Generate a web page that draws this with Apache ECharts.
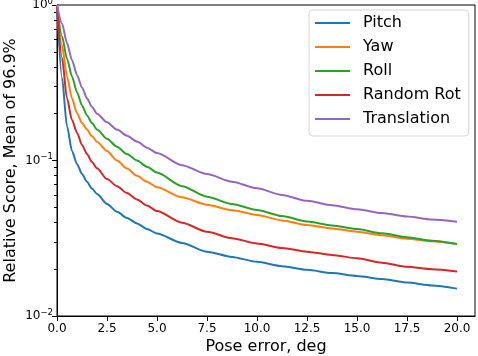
<!DOCTYPE html>
<html lang="en">
<head>
    <meta charset="UTF-8">
    <script src="https://cdn.jsdelivr.net/npm/echarts@6/dist/echarts.min.js"></script>
    <title>Relative score vs pose error</title>
    <style>
        html, body { margin: 0; padding: 0; background: #fff; }
        #chart { width: 478px; height: 356px; }
    </style>
</head>
<body>
<div id="chart"></div>
<script>
    const poseError = [0, 0.25, 0.5, 0.75, 1, 1.25, 1.5, 1.75, 2, 2.5, 3, 3.5, 4, 4.5, 5,
        6.25, 7.5, 8.75, 10, 11.25, 12.5, 13.75, 15, 16.25, 17.5, 18.75, 20]

    const pitch = [1, 0.34, 0.166, 0.115, 0.095, 0.082, 0.073, 0.066, 0.061, 0.0525, 0.0468, 0.0427, 0.0394, 0.0363, 0.0339,
        0.0295, 0.0259, 0.024, 0.0223, 0.0209, 0.0198, 0.0189, 0.0181, 0.0173, 0.0164, 0.0157, 0.015]
    const yaw = [1, 0.55, 0.347, 0.251, 0.202, 0.174, 0.158, 0.143, 0.132, 0.115, 0.1, 0.0887, 0.0798, 0.073, 0.0673,
        0.058, 0.0519, 0.0479, 0.0447, 0.0412, 0.0385, 0.0366, 0.0348, 0.033, 0.0314, 0.0302, 0.029]
    const roll = [1, 0.63, 0.452, 0.347, 0.275, 0.226, 0.195, 0.174, 0.158, 0.138, 0.1225, 0.11, 0.1, 0.0912, 0.0836,
        0.0684, 0.0585, 0.0525, 0.0481, 0.0439, 0.0405, 0.0382, 0.0362, 0.034, 0.0321, 0.0305, 0.029]
    const randomRot = [1, 0.457, 0.251, 0.182, 0.151, 0.126, 0.11, 0.0977, 0.0891, 0.0759, 0.0684, 0.0617, 0.0562, 0.0513, 0.0473,
        0.0398, 0.0348, 0.0316, 0.0293, 0.0274, 0.0259, 0.0247, 0.0235, 0.022, 0.0207, 0.02, 0.0193]
    const translation = [1, 0.76, 0.569, 0.442, 0.355, 0.295, 0.251, 0.221, 0.2, 0.176, 0.158, 0.1445, 0.1324, 0.121, 0.1117,
        0.0933, 0.0818, 0.0731, 0.0662, 0.06, 0.055, 0.0515, 0.0485, 0.0459, 0.0436, 0.0417, 0.0404]

    const names = ['Pitch', 'Yaw', 'Roll', 'Random Rot', 'Translation']
    const colors = ['#1f77b4', '#ff7f0e', '#2ca02c', '#d62728', '#9467bd']
    const allSeries = [pitch, yaw, roll, randomRot, translation]

    const xTicks = [0, 2.5, 5, 7.5, 10, 12.5, 15, 17.5, 20]
    const yMajor = [0.01, 0.1, 1]
    const yMinor = [0.02, 0.03, 0.04, 0.05, 0.06, 0.07, 0.08, 0.09, 0.2, 0.3, 0.4, 0.5, 0.6, 0.7, 0.8, 0.9]

    const font = 'DejaVu Sans'

    function pairs(vals) {
        return vals.map(function (v, i) { return [poseError[i], v] })
    }

    const series = []
    for (let i = 0; i < allSeries.length; i++) {
        series.push({
            name: names[i],
            type: 'line',
            data: pairs(allSeries[i]),
            smooth: 0.25,
            smoothMonotone: 'x',
            symbol: 'none',
            lineStyle: { color: colors[i], width: 2 },
            itemStyle: { color: colors[i] }
        })
    }

    const option = {
        animation: false,
        grid: { left: 57, right: 3, top: 5, bottom: 40, outerBoundsMode: 'none', containLabel: false,
            show: true, borderColor: '#000', borderWidth: 1 },
        legend: {
            orient: 'vertical',
            left: 309, top: 10,
            itemWidth: 35, itemHeight: 16, itemGap: 8,
            padding: [5, 8, 9, 6],
            backgroundColor: 'rgba(255,255,255,0.8)',
            borderColor: '#d5d5d5', borderWidth: 1, borderRadius: 4,
            textStyle: { fontFamily: font, fontSize: 16, color: '#000', lineHeight: 16, padding: [0, 0, 0, 8] },
            data: names.map(function (n) { return { name: n, icon: 'path://M0,0 L35,0 L35,2 L0,2 Z' } })
        },
        xAxis: {
            type: 'value', min: 0, max: 20.9,
            name: 'Pose error, deg', nameLocation: 'middle', nameGap: 23, nameMoveOverlap: false,
            nameTextStyle: { fontFamily: font, fontSize: 16, color: '#000' },
            axisLine: { show: true, lineStyle: { color: '#000', width: 1 } },
            axisTick: { show: true, length: 5, lineStyle: { color: '#000' }, customValues: xTicks },
            axisLabel: { fontFamily: font, fontSize: 12, color: '#000', margin: 7, customValues: xTicks,
                formatter: function (v) { return v.toFixed(1) } },
            splitLine: { show: false }
        },
        yAxis: [{
            type: 'log', logBase: 10, min: 0.01, max: 1,
            name: 'Relative Score, Mean of 96.9%', nameLocation: 'middle', nameGap: 38, nameMoveOverlap: false,
            nameTextStyle: { fontFamily: font, fontSize: 16, color: '#000' },
            axisLine: { show: true, lineStyle: { color: '#000', width: 1 } },
            axisTick: { show: true, length: 5, lineStyle: { color: '#000' }, customValues: yMajor },
            axisLabel: {
                customValues: yMajor, margin: 4,
                formatter: function (v) {
                    const e = Math.round(Math.log10(v))
                    return '{b|10}{s|' + (e < 0 ? '\u2212' + (-e) : e) + '}'
                },
                rich: {
                    b: { fontFamily: font, fontSize: 12, color: '#000', lineHeight: 16 },
                    s: { fontFamily: font, fontSize: 8.5, color: '#000', lineHeight: 10, verticalAlign: 'top' }
                }
            },
            splitLine: { show: false }
        }, {
            type: 'log', logBase: 10, min: 0.01, max: 1, position: 'left',
            axisLine: { show: false },
            axisTick: { show: true, length: 3, lineStyle: { color: '#000' }, customValues: yMinor },
            axisLabel: { show: false },
            splitLine: { show: false }
        }],
        series: series
    }

    const chart = echarts.init(document.getElementById('chart'), null, { renderer: 'canvas' })
    chart.setOption(option)
</script>
</body>
</html>
